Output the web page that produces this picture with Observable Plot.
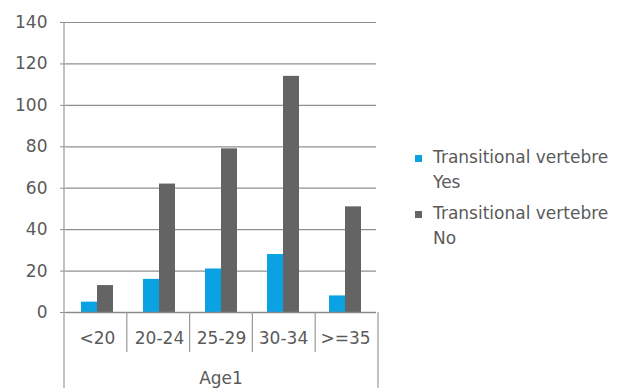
<!DOCTYPE html>
<html>
<head>
<meta charset="utf-8">
<script src="https://cdn.jsdelivr.net/npm/d3@7"></script>
<script src="https://cdn.jsdelivr.net/npm/@observablehq/plot@0.6"></script>
<style>
  html, body { margin: 0; padding: 0; background: #fff; }
  #wrap { position: relative; width: 620px; height: 388px; font-family: "DejaVu Sans", sans-serif; }
  #legend { position: absolute; left: 415px; top: 145px; font-size: 17px; color: #5a5a5a; line-height: 25px; }
  .item { position: relative; padding-left: 18px; margin-bottom: 6px; white-space: nowrap; }
  .sw { position: absolute; left: 0; top: 10px; width: 7px; height: 7px; }
</style>
</head>
<body>
<div id="wrap"><div id="legend"></div></div>
<script>
const categories = ["<20", "20-24", "25-29", "30-34", ">=35"];
const seriesNames = ["Transitional vertebre Yes", "Transitional vertebre No"];
const yesValues = [5, 16, 21, 28, 8];
const noValues = [13, 62, 79, 114, 51];
const yTicks = [0, 20, 40, 60, 80, 100, 120, 140];
const colors = ["#0aa2e2", "#646464"];
const axisTitle = "Age1";

const data = [];
categories.forEach((c, i) => {
  data.push({cat: c, series: seriesNames[0], value: yesValues[i]});
  data.push({cat: c, series: seriesNames[1], value: noValues[i]});
});

const W = 620, H = 388, ML = 64, MR = 242, MT = 22, MB = 76;

const chart = Plot.plot({
  width: W, height: H,
  marginLeft: ML, marginRight: MR, marginTop: MT, marginBottom: MB,
  style: {fontFamily: "DejaVu Sans, sans-serif", fontSize: "17px", color: "#5a5a5a", background: "white"},
  fx: {domain: categories, padding: 0, label: null},
  x: {domain: seriesNames, paddingInner: 0, paddingOuter: 0.85, axis: null},
  y: {domain: [0, 140], ticks: yTicks, label: null},
  color: {domain: seriesNames, range: colors},
  marks: [
    Plot.ruleY(yTicks.filter(d => d > 0), {stroke: "#8f8f8f", strokeWidth: 1.2}),
    Plot.barY(data, {fx: "cat", x: "series", y: "value", fill: "series"}),
    Plot.ruleY([0], {stroke: "#8a8a8a", strokeWidth: 1.3}),
    Plot.axisY({ticks: yTicks, tickSize: 6, tickPadding: 13, label: null, stroke: "#8f8f8f", fill: "#5a5a5a"}),
    Plot.axisFx({anchor: "bottom", tickSize: 0, tickPadding: 19, label: null, fill: "#5a5a5a"})
  ]
});

document.getElementById("wrap").prepend(chart);

// Category-axis box lines (Excel style) from the fx scale
const fxs = chart.scale("fx");
const band = d3.scaleBand().domain(fxs.domain).range(fxs.range).padding(0);
const svg = d3.select(chart);
const g = svg.append("g").attr("stroke", "#999").attr("stroke-width", 1.2);
const y0 = H - MB;
g.append("line").attr("x1", band.range()[0]).attr("x2", band.range()[0]).attr("y1", MT).attr("y2", H);
g.append("line").attr("x1", band.range()[1]).attr("x2", band.range()[1]).attr("y1", y0).attr("y2", H);
categories.slice(1).forEach(c => {
  const x = band(c);
  g.append("line").attr("x1", x).attr("x2", x).attr("y1", y0).attr("y2", y0 + 40);
});
svg.append("text")
  .attr("x", (band.range()[0] + band.range()[1]) / 2)
  .attr("y", 384)
  .attr("text-anchor", "middle")
  .attr("fill", "#5a5a5a")
  .attr("font-size", 17)
  .text(axisTitle);

// Legend
const legend = d3.select("#legend");
seriesNames.forEach((s, i) => {
  const words = s.split(" ");
  const it = legend.append("div").attr("class", "item");
  it.append("span").attr("class", "sw").style("background", colors[i]);
  it.append("div").text(words.slice(0, 2).join(" "));
  it.append("div").text(words.slice(2).join(" "));
});
</script>
</body>
</html>
